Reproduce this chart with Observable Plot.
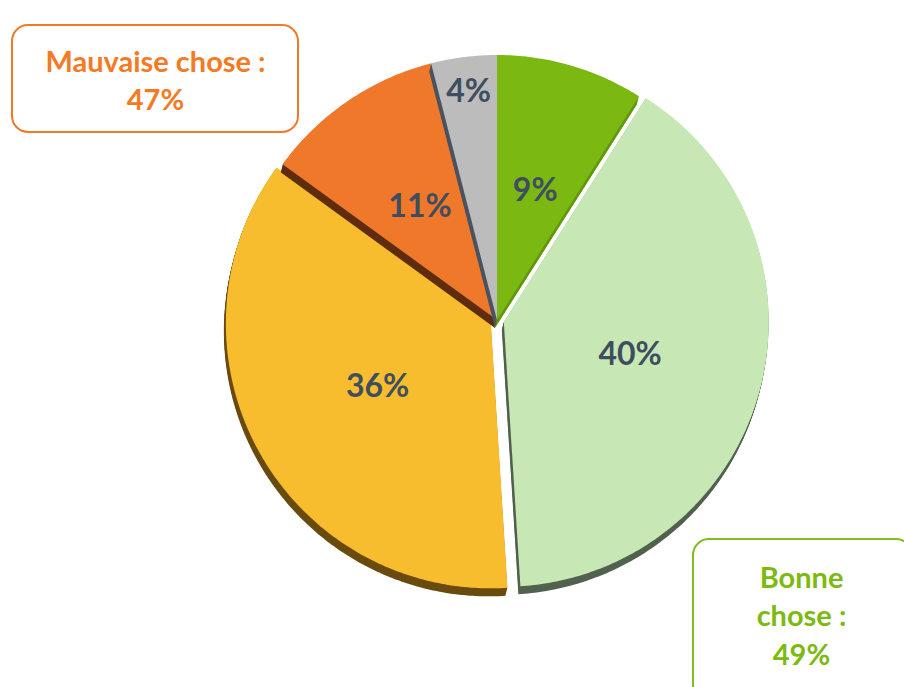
<!DOCTYPE html>
<html>
<head>
<meta charset="utf-8">
<script src="https://cdn.jsdelivr.net/npm/d3@7"></script>
<script src="https://cdn.jsdelivr.net/npm/@observablehq/plot@0.6"></script>
<style>
  html, body { margin: 0; padding: 0; background: #ffffff; }
  #chart svg { display: block; }
</style>
</head>
<body>
<div id="chart"></div>
<script>
// ---- data ----
const categories = ["Très bonne chose", "Plutôt bonne chose", "Plutôt mauvaise chose", "Très mauvaise chose", "Ne sait pas"];
const values = [9, 40, 36, 11, 4];
const valueLabels = ["9%", "40%", "36%", "11%", "4%"];
const groupLabels = [["Mauvaise chose :", "47%"], ["Bonne", "chose :", "49%"]];

// ---- style ----
const faceColors = ["#7bb812", "#c7e8b5", "#f7bd2f", "#ef782b", "#bcbcbc"];
const sideColors = ["#62990a", "#52624f", "#6a4b0e", "#5f2d0d", "#4b5360"];
const explode = [0, 7, 7, 0, 0];
const labelRadius = [0.51, 0.49, 0.49, 0.52, 0.87];
const W = 904, H = 687;
const cx = 497, cy = 320, R = 265;
const depth = {dx: -2, dy: 8, steps: 8};
const drawOrder = [2, 1, 3, 0, 4];

const arcs = d3.pie().sort(null)(values);

function offsetOf(i) {
  const a = (arcs[i].startAngle + arcs[i].endAngle) / 2;
  return [explode[i] * Math.sin(a), -explode[i] * Math.cos(a)];
}

const rows = [];
for (const i of drawOrder) {
  const a0 = arcs[i].startAngle, a1 = arcs[i].endAngle;
  const n = Math.max(8, Math.ceil((a1 - a0) * 80));
  const [ox, oy] = offsetOf(i);
  const layers = [];
  for (let k = depth.steps; k >= 1; k--) {
    layers.push({key: `${i}-side-${k}`, fill: sideColors[i], sx: depth.dx * k / depth.steps, sy: depth.dy * k / depth.steps});
  }
  layers.push({key: `${i}-face`, fill: faceColors[i], sx: 0, sy: 0});
  for (const L of layers) {
    for (let j = 0; j <= n; j++) {
      const a = a0 + (a1 - a0) * j / n;
      rows.push({
        key: L.key, fill: L.fill,
        x1: cx + ox + L.sx, y1: cy + oy + L.sy,
        x2: cx + ox + L.sx + R * Math.sin(a), y2: cy + oy + L.sy - R * Math.cos(a)
      });
    }
  }
}

const labels = arcs.map((d, i) => {
  const a = (d.startAngle + d.endAngle) / 2;
  const [ox, oy] = offsetOf(i);
  return {text: valueLabels[i], x: cx + ox + labelRadius[i] * R * Math.sin(a), y: cy + oy - labelRadius[i] * R * Math.cos(a)};
});

const boxes = [
  {x1: 12, x2: 298, y1: 25, y2: 132, stroke: "#f07a2a"},
  {x1: 693, x2: 912, y1: 539, y2: 700, stroke: "#82bd1c"}
];
const boxText = [
  ...groupLabels[0].map((t, k) => ({text: t, x: 155, y: 71 + 38 * k, color: "#f47a24"})),
  ...groupLabels[1].map((t, k) => ({text: t, x: 801, y: 587 + 38.5 * k, color: "#7cba12"}))
];

const plot = Plot.plot({
  width: W, height: H,
  margin: 0,
  x: {domain: [0, W], range: [0, W], axis: null},
  y: {domain: [0, H], range: [0, H], axis: null},
  color: {type: "identity"},
  style: {background: "#ffffff", overflow: "visible"},
  marks: [
    Plot.area(rows, {x1: "x1", y1: "y1", x2: "x2", y2: "y2", z: "key", fill: "fill", curve: "linear"}),
    Plot.text(labels, {x: "x", y: "y", text: "text", fill: "#3f4e5e", fontSize: 32, fontWeight: "bold", fontFamily: "Lato", textAnchor: "middle"}),
    Plot.rect(boxes, {x1: "x1", x2: "x2", y1: "y1", y2: "y2", stroke: "stroke", fill: "#ffffff", strokeWidth: 2, rx: 16}),
    Plot.text(boxText, {x: "x", y: "y", text: "text", fill: "color", fontSize: 29, fontWeight: "bold", fontFamily: "Lato", textAnchor: "middle", lineAnchor: "bottom"})
  ]
});
document.getElementById("chart").appendChild(plot);
</script>
</body>
</html>
